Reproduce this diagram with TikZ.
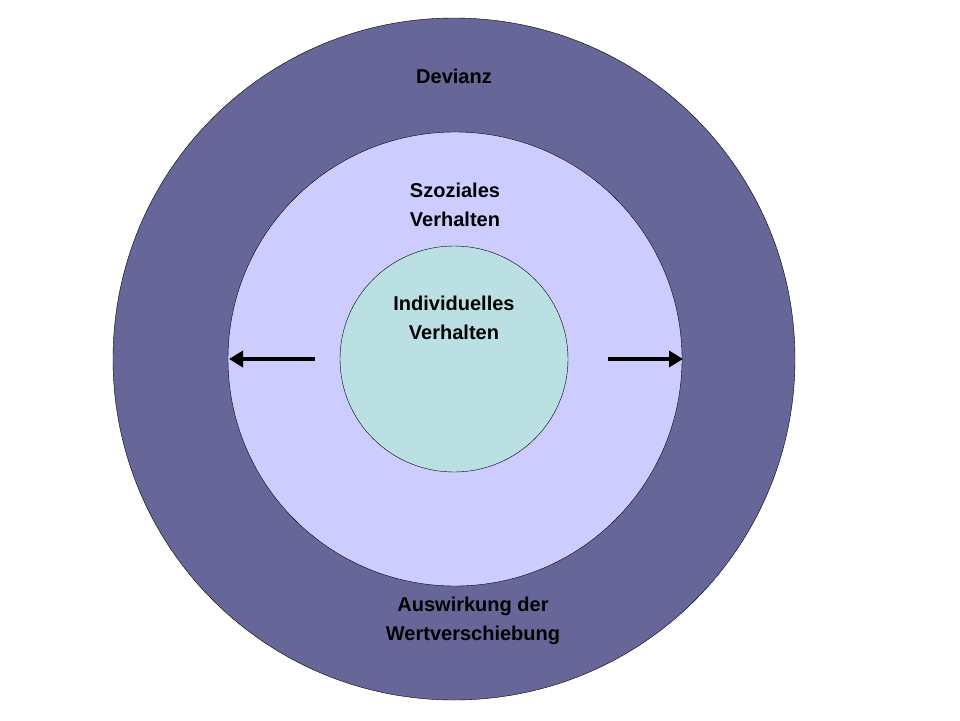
\documentclass[tikz,border=0pt]{standalone}
\usepackage{fontspec}
\setmainfont{Liberation Sans}
\usetikzlibrary{arrows.meta,shapes.geometric}
\definecolor{outerc}{HTML}{666699}
\definecolor{midc}{HTML}{CCCCFF}
\definecolor{innc}{HTML}{BBE0E3}
\tikzset{lbl/.style={font=\fontsize{20}{29}\selectfont\bfseries,align=center,text=black},
arr/.style={line width=4pt,-{Triangle[length=14pt,width=16pt]}}}
\begin{document}
\begin{tikzpicture}[x=1pt,y=-1pt]
\useasboundingbox (0,0) rectangle (960,720);
\node[circle,draw=black,fill=outerc,minimum size=682pt,inner sep=0pt] (outer) at (454,359) {};
\node[circle,draw=black,fill=midc,minimum size=454pt,inner sep=0pt] (mid) at (455,359) {};
\node[ellipse,draw=black,fill=innc,minimum width=228pt,minimum height=226pt,inner sep=0pt] (inner) at (454,359) {};
\node[lbl] (dev) at (454,76) {Devianz};
\node[lbl] (soz) at (455,205) {Szoziales\\Verhalten};
\node[lbl] (ind) at (454,318) {Individuelles\\Verhalten};
\node[lbl] (aus) at (473,621) {Auswirkung der\\Wertverschiebung};
\coordinate (ls) at (315,359);
\coordinate (le) at (229,359);
\coordinate (rs) at (608,359);
\coordinate (re) at (683,359);
\draw[arr] (ls) -- (le);
\draw[arr] (rs) -- (re);
\end{tikzpicture}
\end{document}
